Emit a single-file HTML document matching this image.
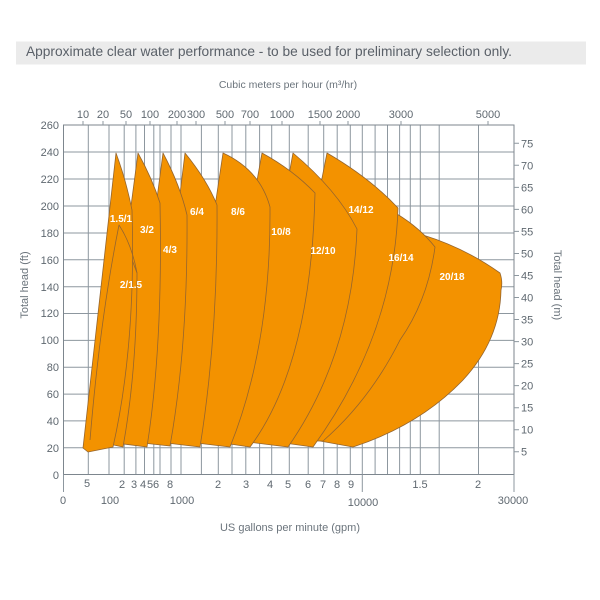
<!DOCTYPE html>
<html><head><meta charset="utf-8"><style>body{margin:0;background:#fff}svg{display:block}</style></head>
<body>
<svg width="600" height="600" viewBox="0 0 600 600" xmlns="http://www.w3.org/2000/svg" font-family="Liberation Sans, sans-serif">
<rect x="16" y="41.5" width="570" height="23" fill="#ebebeb"/>
<text x="26" y="56" font-size="14" fill="#5a6068" textLength="486" lengthAdjust="spacingAndGlyphs">Approximate clear water performance - to be used for preliminary selection only.</text>
<text x="288" y="88" font-size="10.5" fill="#6b747c" text-anchor="middle">Cubic meters per hour (m³/hr)</text>
<g stroke="#8d979f" stroke-width="1" fill="none">
<path d="M88.3,125V474.5M109,125V474.5M124.2,125V474.5M135.9,125V474.5M144.5,125V474.5M153.8,125V474.5M160,125V474.5M171,125V474.5M181,125V474.5M201.4,125V474.5M218.3,125V474.5M232,125V474.5M245.8,125V474.5M259.6,125V474.5M271.7,125V474.5M289.3,125V474.5M308.2,125V474.5M323.7,125V474.5M337.2,125V474.5M350.3,125V474.5M362.3,125V474.5M375.1,125V474.5M387.5,125V474.5M399.6,125V474.5M410.3,125V474.5M420.3,125V474.5M439.2,125V474.5M478.5,125V474.5"/>
<path d="M63.5,152H514M63.5,179H514M63.5,206H514M63.5,233H514M63.5,259.8H514M63.5,286.7H514M63.5,313.5H514M63.5,340.4H514M63.5,367.2H514M63.5,394.1H514M63.5,420.9H514M63.5,447.8H514"/>
<path d="M63.5,125H514V474.5H63.5Z" stroke="#7d868e"/>
<path d="M63.5,474.5V492M362.3,474.5V492M514,474.5V492"/>
<path d="M83,125v-4M103,125v-4M126,125v-4M150,125v-4M177,125v-4M196,125v-4M225,125v-4M250,125v-4M282,125v-4M320,125v-4M348,125v-4M401,125v-4M488,125v-4"/>
<path d="M514,143.3h5M514,165.3h5M514,187.4h5M514,209.4h5M514,231.4h5M514,253.5h5M514,275.5h5M514,297.5h5M514,319.5h5M514,341.6h5M514,363.6h5M514,385.6h5M514,407.7h5M514,429.7h5M514,451.7h5"/>
</g>
<g font-size="11" fill="#5f6870" text-anchor="middle">
<text x="83" y="118">10</text><text x="103" y="118">20</text><text x="126" y="118">50</text><text x="150" y="118">100</text><text x="177" y="118">200</text><text x="196" y="118">300</text><text x="225" y="118">500</text><text x="250" y="118">700</text><text x="282" y="118">1000</text><text x="320" y="118">1500</text><text x="348" y="118">2000</text><text x="401" y="118">3000</text><text x="488" y="118">5000</text>
<text x="87" y="487">5</text><text x="122" y="488">2</text><text x="134" y="488">3</text><text x="143" y="488">4</text><text x="150" y="488">5</text><text x="156" y="488">6</text><text x="170" y="488">8</text><text x="218" y="488">2</text><text x="246" y="488">3</text><text x="270" y="488">4</text><text x="288" y="488">5</text><text x="308" y="488">6</text><text x="323" y="488">7</text><text x="337" y="488">8</text><text x="351" y="488">9</text><text x="420" y="488">1.5</text><text x="478" y="488">2</text>
<text x="63" y="504">0</text><text x="110" y="504">100</text><text x="182" y="504">1000</text><text x="363" y="506">10000</text><text x="513" y="504">30000</text>
</g>
<g font-size="11" fill="#5f6870" text-anchor="end">
<text x="59" y="129">260</text><text x="59" y="156">240</text><text x="59" y="183">220</text><text x="59" y="210">200</text><text x="59" y="237">180</text><text x="59" y="264">160</text><text x="59" y="291">140</text><text x="59" y="317">120</text><text x="59" y="344">100</text><text x="59" y="371">80</text><text x="59" y="398">60</text><text x="59" y="425">40</text><text x="59" y="452">20</text><text x="59" y="479">0</text>
</g>
<g font-size="11" fill="#5f6870">
<text x="521" y="147.3">75</text><text x="521" y="169.3">70</text><text x="521" y="191.4">65</text><text x="521" y="213.4">60</text><text x="521" y="235.4">55</text><text x="521" y="257.5">50</text><text x="521" y="279.5">45</text><text x="521" y="301.5">40</text><text x="521" y="323.5">35</text><text x="521" y="345.6">30</text><text x="521" y="367.6">25</text><text x="521" y="389.6">20</text><text x="521" y="411.7">15</text><text x="521" y="433.7">10</text><text x="521" y="455.7">5</text>
</g>
<text x="290" y="531" font-size="11" fill="#6b747c" text-anchor="middle">US gallons per minute (gpm)</text>
<text transform="translate(28,285) rotate(-90)" font-size="11" fill="#6b747c" text-anchor="middle">Total head (ft)</text>
<text transform="translate(554,285) rotate(90)" font-size="11" fill="#6b747c" text-anchor="middle">Total head (m)</text>
<g fill="#f39200" stroke="#95652e" stroke-width="0.8" stroke-linejoin="round">
<path d="M320,441 L423,235 Q465,248 500,273 Q503,282 501,290 Q500,340 463,380 Q420,425 353,447 Z"/>
<path d="M300,441 L397,214 Q420,228 435,247 Q428,300 400,340 Q370,400 323,441 Z"/>
<path d="M270,441 L327,153 Q370,178 398,208 Q394,335 313,447 Z"/>
<path d="M240,441 L293,153 Q337,190 357,229 Q352,355 288,447 Z"/>
<path d="M210,441 L262,153 Q293,170 315,193 Q311,365 250,447 Z"/>
<path d="M180,441 L223,153 Q260,170 270,207 Q271,345 230,447 Z"/>
<path d="M150,441 L185,153 Q207,180 217,205 Q218,335 200,447 Z"/>
<path d="M125,441 L163,153 Q180,185 187,215 Q188,345 170,446 Z"/>
<path d="M100,441 L138,153 Q152,178 160,203 Q163,345 147,447 Z"/>
<path d="M95,441 L119,225 L137,273 Q137,370 123,447 Z"/>
<path d="M83,448 L116,153 Q126,180 132,210 Q136,345 113,447 L88,452 Z"/>
<path d="M90,440 Q100,320 119,225 Q132,245 137,273" fill="none"/>
</g>
<g font-size="10" font-weight="bold" fill="#fff" text-anchor="middle">
<text x="121" y="222">1.5/1</text><text x="147" y="233">3/2</text><text x="170" y="253">4/3</text><text x="197" y="215">6/4</text><text x="238" y="215">8/6</text><text x="281" y="235">10/8</text><text x="323" y="254">12/10</text><text x="361" y="213">14/12</text><text x="401" y="261">16/14</text><text x="452" y="280">20/18</text><text x="131" y="288">2/1.5</text>
</g>
</svg>
</body></html>
